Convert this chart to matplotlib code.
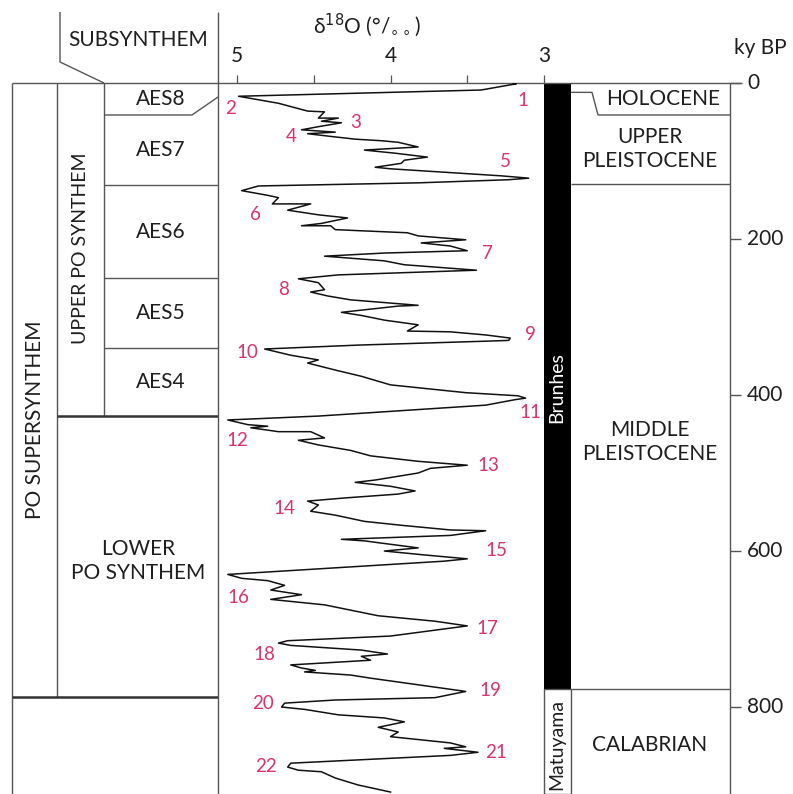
import matplotlib
matplotlib.use('Agg')
import matplotlib.pyplot as plt
from matplotlib.patches import Rectangle
from matplotlib.transforms import blended_transform_factory

plt.rcParams['font.family'] = ['Lato', 'DejaVu Sans']

# benthic d18O stack (ky BP, per mil)
age = [0, 1, 9, 17, 26, 36, 37, 45, 45, 49, 51, 56, 60, 63, 65, 68, 72, 74, 76, 82,
       86, 90, 95, 99, 103, 108, 110, 119, 122, 124, 128, 132, 138, 144, 147, 155, 155,
       163, 169, 173, 180, 183, 183, 188, 192, 196, 201, 205, 209, 215, 218, 222, 228,
       233, 240, 246, 251, 256, 265, 268, 273, 278, 285, 286, 294, 298, 304, 310, 318,
       319, 323, 327, 330, 331, 336, 341, 349, 355, 359, 368, 376, 387, 397, 401, 404,
       406, 413, 421, 427, 432, 438, 440, 442, 447, 447, 455, 458, 464, 471, 478, 485,
       490, 494, 500, 509, 512, 517, 523, 527, 532, 536, 541, 549, 554, 562, 567, 573,
       574, 580, 585, 587, 596, 600, 605, 610, 613, 630, 635, 638, 644, 650, 656, 662,
       669, 683, 690, 696, 709, 715, 718, 721, 727, 732, 735, 740, 746, 750, 753, 755,
       759, 763, 780, 788, 791, 795, 800, 803, 810, 814, 819, 826, 832, 838, 846, 851,
       853, 858, 862, 872, 877, 881, 883, 891, 900, 909]
d18o = [3.20, 3.18, 3.41, 4.99, 4.73, 4.54, 4.43, 4.47, 4.34, 4.45, 4.32, 4.47, 4.58,
        4.36, 4.54, 4.41, 4.23, 4.06, 3.95, 3.82, 4.17, 3.97, 3.76, 3.91, 3.93, 4.10,
        4.00, 3.28, 3.10, 3.23, 3.82, 4.86, 4.97, 4.80, 4.73, 4.77, 4.52, 4.67, 4.47,
        4.28, 4.45, 4.58, 4.39, 4.36, 3.89, 3.82, 3.51, 3.80, 3.61, 3.50, 4.04, 4.43,
        4.04, 3.91, 3.44, 4.34, 4.60, 4.47, 4.43, 4.52, 4.41, 4.26, 3.82, 3.95, 4.32,
        4.19, 4.04, 3.82, 3.89, 3.61, 3.38, 3.22, 3.23, 3.38, 4.21, 4.82, 4.65, 4.47,
        4.54, 4.36, 4.19, 4.00, 3.51, 3.17, 3.12, 3.19, 3.38, 4.00, 4.47, 5.06, 4.93,
        4.80, 4.91, 4.73, 4.52, 4.43, 4.60, 4.47, 4.26, 4.13, 3.82, 3.50, 3.74, 3.82,
        4.10, 4.23, 4.00, 3.84, 3.95, 4.30, 4.54, 4.47, 4.52, 4.36, 4.17, 3.93, 3.61,
        3.38, 3.61, 4.32, 4.17, 3.82, 4.04, 3.78, 3.50, 3.65, 5.06, 4.97, 4.80, 4.69,
        4.78, 4.58, 4.78, 4.43, 4.08, 3.71, 3.50, 4.00, 4.67, 4.73, 4.65, 4.19, 4.02,
        4.19, 4.13, 4.65, 4.58, 4.49, 4.56, 4.26, 4.13, 3.51, 3.71, 4.36, 4.69, 4.71,
        4.56, 4.34, 4.04, 3.91, 4.08, 3.95, 4.00, 3.61, 3.51, 3.65, 3.43, 3.61, 4.65,
        4.67, 4.60, 4.45, 4.36, 4.21, 4.00]

# marine isotope stage labels and where they sit (ky, per mil)
mis_label = [str(i) for i in range(1, 23)]
mis_age = [22, 33, 50, 68, 101, 168, 218, 265, 323, 345, 422, 458, 491, 545, 599,
           660, 699, 733, 779, 796, 858, 876]
mis_d18o = [3.14, 5.04, 4.23, 4.65, 3.25, 4.88, 3.37, 4.70, 3.09, 4.93, 3.09, 5.00,
            3.36, 4.69, 3.31, 4.99, 3.37, 4.82, 3.35, 4.83, 3.31, 4.81]

# Po basin units (bases in ky)
aes_names = ['AES8', 'AES7', 'AES6', 'AES5', 'AES4']
aes_base = [41, 131, 250, 340, 427]
aes8_base_at_axis = 18
upper_po_base = 427
lower_po_base = 787

# chronostratigraphy and polarity
holocene_base = 12
holocene_box_base = 41
upper_pleist_base = 130
brunhes_base = 777
age_ticks = [0, 200, 400, 600, 800]
AGE_MAX = 911.5

LINE = '#555555'
INK = '#1e1e1e'
PINK = '#d8336a'
FS = 15

fig = plt.figure(figsize=(7.93, 7.94), dpi=100)
ov = fig.add_axes([0, 0, 1, 1])
ax = fig.add_axes([218 / 793, 0, (544 - 218) / 793, (794 - 83) / 794])

# curve panel
ax.plot(d18o, age, color='#111111', lw=1.1)
ax.set_xlim(5.124, 3.0)
ax.set_ylim(AGE_MAX, 0)
ax.patch.set_visible(False)
for s in ax.spines.values():
    s.set_visible(False)
ax.spines['left'].set_visible(True)
ax.spines['left'].set_color(LINE)
ax.spines['left'].set_linewidth(1.0)
ax.xaxis.tick_top()
ax.set_xticks([5, 4.5, 4, 3.5, 3])
ax.set_xticklabels(['5', '', '4', '', '3'])
ax.set_yticks([])
ax.tick_params(axis='x', direction='out', length=6, width=0.9, color=LINE,
               pad=6, labelsize=FS, labelcolor=INK)
for lab, a, d in zip(mis_label, mis_age, mis_d18o):
    ax.text(d, a, lab, color=PINK, fontsize=13.5, ha='center', va='center', clip_on=False)

# x in pixels, y in ky
bt = blended_transform_factory(ov.transData, ax.transData)


def seg(xs, ys, lw=1.0, color=LINE, tr=None):
    ov.plot(xs, ys, color=color, lw=lw, transform=tr or bt, clip_on=False,
            solid_capstyle='butt')


# frame
seg([12, 742], [0, 0])
seg([12, 12], [0, AGE_MAX])
seg([57, 57], [0, lower_po_base])
seg([104, 104], [0, upper_po_base])
seg([730, 730], [0, AGE_MAX])
seg([60, 60, 104], [12, 62, 83], tr=ov.transData)
seg([218, 218], [12, 83], tr=ov.transData)

# subsynthems
seg([104, 192, 218], [aes_base[0], aes_base[0], aes8_base_at_axis])
for b in aes_base[1:-1]:
    seg([104, 218], [b, b])
seg([57, 218], [upper_po_base, upper_po_base], lw=1.8, color='#333333')
seg([12, 218], [lower_po_base, lower_po_base], lw=1.8, color='#333333')

tops = [0] + aes_base[:-1]
for name, t, b in zip(aes_names, tops, aes_base):
    mid = (t + b) / 2 if name != 'AES8' else 20
    ov.text(161, mid, name, transform=bt, fontsize=FS, ha='center', va='center', color=INK)

# chronostratigraphy
seg([571, 592, 598, 730], [holocene_base, holocene_base, holocene_box_base, holocene_box_base])
seg([571, 730], [upper_pleist_base, upper_pleist_base])
seg([571, 730], [brunhes_base, brunhes_base])
ov.add_patch(Rectangle((544, 0), 27, brunhes_base, transform=bt, facecolor='black',
                       edgecolor='none', clip_on=False))
ov.add_patch(Rectangle((544, brunhes_base), 27, AGE_MAX - brunhes_base, transform=bt,
                       facecolor='white', edgecolor=LINE, lw=1.0, clip_on=False))

# age axis
for a in age_ticks:
    seg([730, 741], [a, a])
    ov.text(747, a, str(a), transform=bt, fontsize=FS, ha='left', va='center', color=INK)

txt = dict(fontsize=FS, ha='center', va='center', color=INK)
ov.text(138, 40, 'SUBSYNTHEM', **txt)
ov.text(367, 25, 'δ$^{18}$O (°/$_{\\circ\\circ}$)', **txt)
ov.text(760, 48, 'ky BP', **txt)
ov.text(80, 248, 'UPPER PO SYNTHEM', rotation=90, fontsize=14, ha='center', va='center', color=INK)
ov.text(35, 420, 'PO SUPERSYNTHEM', rotation=90, fontsize=15, ha='center', va='center', color=INK)
ov.text(138, 561, 'LOWER\nPO SYNTHEM', linespacing=1.3, **txt)
ov.text(663, 99, 'HOLOCENE', **txt)
ov.text(650, 149, 'UPPER\nPLEISTOCENE', linespacing=1.2, **txt)
ov.text(650, 442, 'MIDDLE\nPLEISTOCENE', linespacing=1.2, **txt)
ov.text(650, 745, 'CALABRIAN', **txt)
ov.text(557, 388, 'Brunhes', rotation=90, fontsize=14, ha='center', va='center', color='white')
ov.text(557, 745, 'Matuyama', rotation=90, fontsize=14, ha='center', va='center', color=INK)

ov.set_xlim(0, 793)
ov.set_ylim(794, 0)
ov.axis('off')

fig.savefig('out.png', dpi=100)
